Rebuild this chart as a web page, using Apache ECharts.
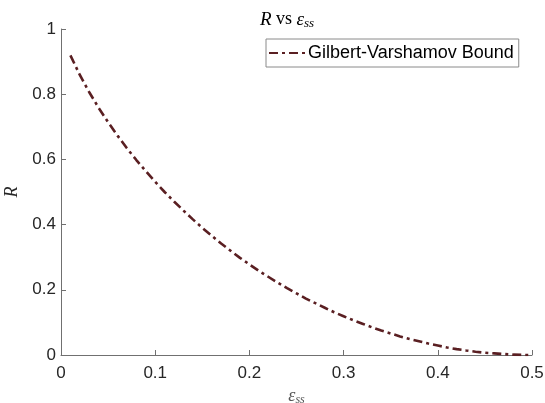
<!DOCTYPE html>
<html><head><meta charset="utf-8">
<script src="https://cdn.jsdelivr.net/npm/echarts@6/dist/echarts.min.js"></script>
<style>html,body{margin:0;padding:0;background:#fff}#c{width:545px;height:403px}</style>
</head><body><div id="c"></div>
<script>
const epsValues = [0.01,0.02,0.03,0.04,0.05,0.06,0.07,0.08,0.09,0.10,0.11,0.12,0.13,0.14,0.15,0.16,0.17,0.18,0.19,0.20,0.21,0.22,0.23,0.24,0.25,0.26,0.27,0.28,0.29,0.30,0.31,0.32,0.33,0.34,0.35,0.36,0.37,0.38,0.39,0.40,0.41,0.42,0.43,0.44,0.45,0.46,0.47,0.48,0.49,0.50];
const gvBound = [0.919,0.859,0.806,0.758,0.714,0.673,0.634,0.598,0.564,0.531,0.500,0.471,0.443,0.416,0.390,0.366,0.342,0.320,0.298,0.278,0.258,0.240,0.222,0.205,0.189,0.173,0.159,0.145,0.131,0.119,0.107,0.096,0.085,0.075,0.066,0.057,0.049,0.042,0.035,0.029,0.023,0.018,0.014,0.010,0.007,0.005,0.003,0.001,0.0003,0.0];
const xTicks = [0,0.1,0.2,0.3,0.4,0.5];
const yTicks = [0,0.2,0.4,0.6,0.8,1];
const seriesName = 'Gilbert-Varshamov Bound';

const chart = echarts.init(document.getElementById('c'));
const axisColor = '#707070';
const font = 'Liberation Sans, Arial, sans-serif';
const serifF = 'Liberation Serif, serif';
chart.setOption({
  animation: false,
  grid: {left: 61, right: 13, top: 29, bottom: 48, containLabel: false, outerBoundsMode: 'none'},
  title: {
    text: '{r|R}{v| vs }{e|ε}{s|ss}',
    left: 282, top: 4, textAlign: 'center',
    textStyle: {
      fontWeight: 'normal',
      rich: {
        r: {fontFamily: serifF, fontStyle: 'italic', fontWeight: 'normal', fontSize: 19, color: '#000'},
        v: {fontFamily: serifF, fontWeight: 'normal', fontSize: 18, color: '#000'},
        e: {fontFamily: serifF, fontStyle: 'italic', fontWeight: 'normal', fontSize: 19, color: '#000'},
        s: {fontFamily: serifF, fontStyle: 'italic', fontWeight: 'normal', fontSize: 13, color: '#000', padding: [8, 0, 0, 0]}
      }
    }
  },
  legend: {
    data: [seriesName],
    left: 266, top: 39,
    itemWidth: 38, itemHeight: 10,
    padding: [5, 5, 5, 2],
    borderColor: '#8a8a8a', borderWidth: 1, borderRadius: 0,
    backgroundColor: '#fff',
    itemStyle: {opacity: 0},
    textStyle: {fontFamily: font, fontSize: 18, color: '#000', padding: [0, 0, 0, -4]}
  },
  xAxis: {
    type: 'value', min: 0, max: 0.5, interval: 0.1,
    name: '{e|ε}{s|ss}', nameLocation: 'middle', nameGap: 30,
    nameTextStyle: {
      rich: {
        e: {fontFamily: serifF, fontStyle: 'italic', fontSize: 18, color: '#555'},
        s: {fontFamily: serifF, fontStyle: 'italic', fontSize: 12, color: '#555', padding: [7, 0, 0, 0]}
      }
    },
    axisLine: {show: true, lineStyle: {color: axisColor, width: 1}},
    axisTick: {show: true, inside: true, length: 5, lineStyle: {color: axisColor}},
    axisLabel: {fontFamily: font, fontSize: 17, color: '#262626', margin: 10},
    splitLine: {show: false}
  },
  yAxis: {
    type: 'value', min: 0, max: 1, interval: 0.2,
    name: 'R', nameLocation: 'middle', nameGap: 25, nameRotate: 90,
    nameTextStyle: {fontFamily: serifF, fontStyle: 'italic', fontSize: 18, color: '#262626'},
    axisLine: {show: true, lineStyle: {color: axisColor, width: 1}},
    axisTick: {show: true, inside: true, length: 5, lineStyle: {color: axisColor}},
    axisLabel: {fontFamily: font, fontSize: 17, color: '#262626', margin: 5},
    splitLine: {show: false}
  },
  series: [{
    name: seriesName,
    type: 'line',
    data: epsValues.map((x, i) => [x, gvBound[i]]),
    showSymbol: false, symbol: 'none', smooth: false,
    lineStyle: {color: '#5a1f22', width: 2.6, type: [9, 4, 3, 4]},
    itemStyle: {color: '#5a1f22'}
  }]
});
</script></body></html>
